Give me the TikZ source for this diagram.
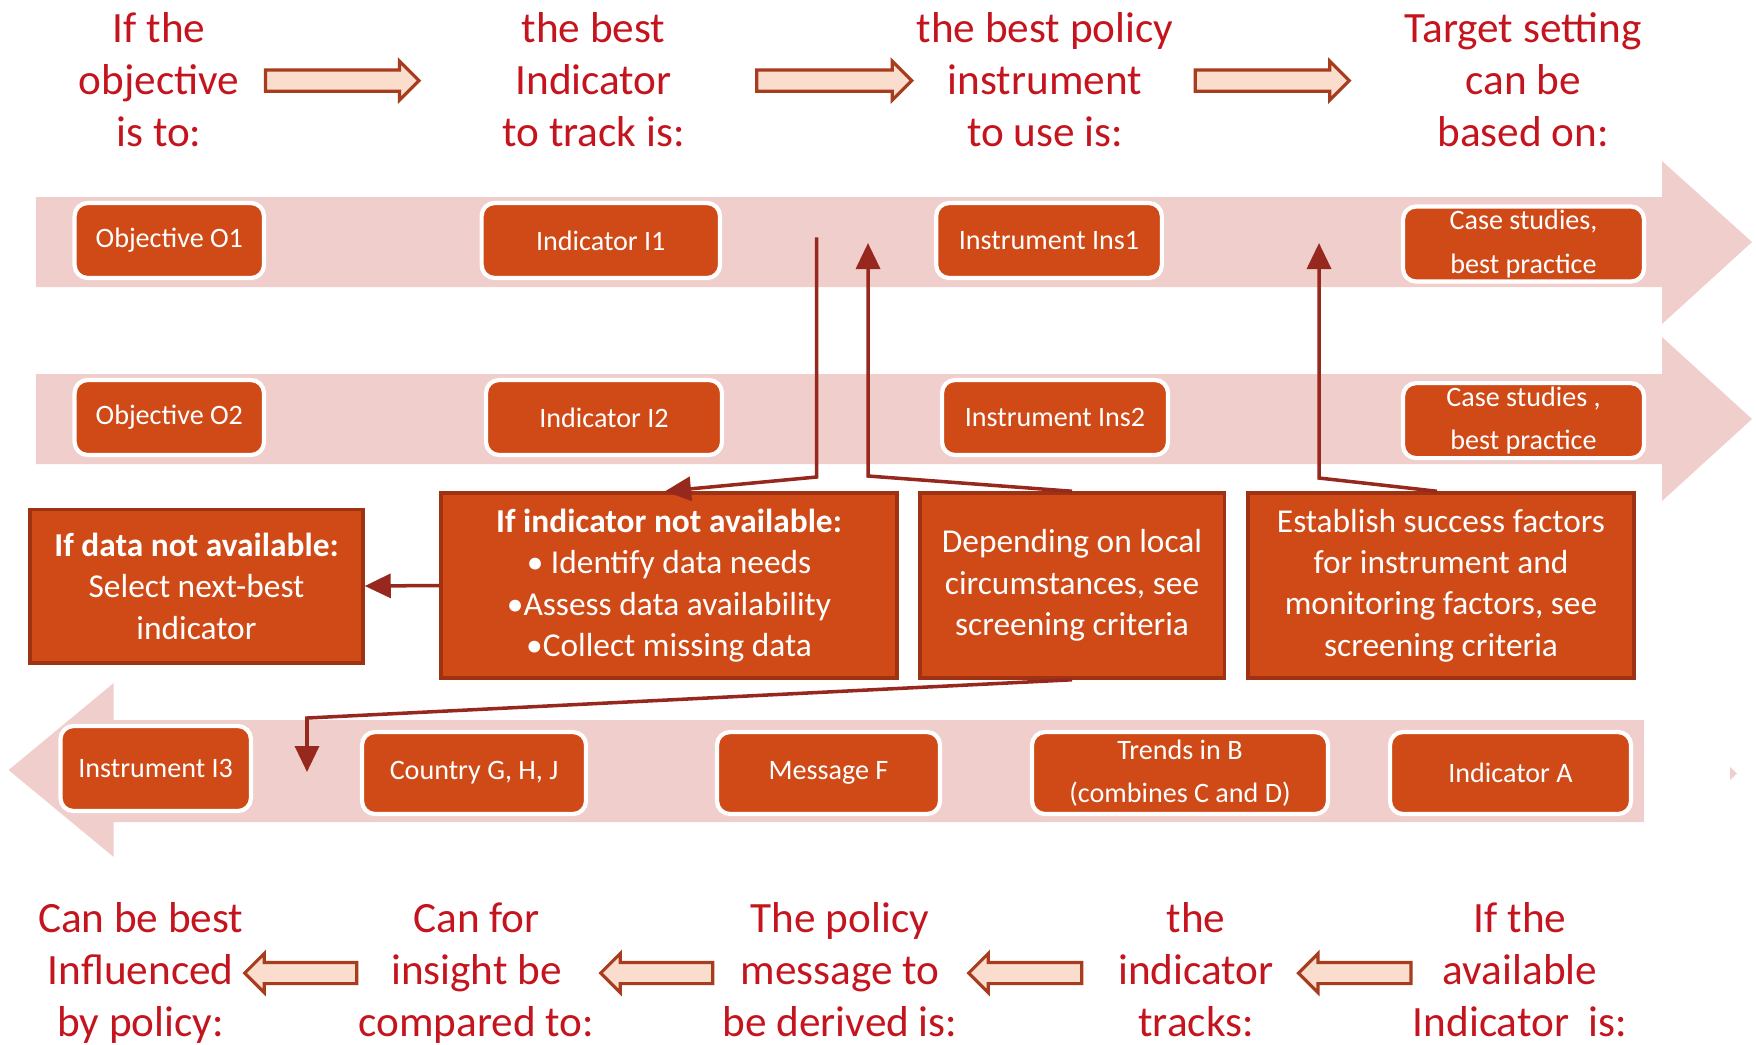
\documentclass[tikz,border=0pt]{standalone}
\usepackage{fontspec}
\setmainfont{Carlito}
\usepackage{tikz}
\usetikzlibrary{shapes.arrows,arrows.meta}

\definecolor{hdrred}{RGB}{196,20,30}
\definecolor{boxfill}{RGB}{208,74,24}
\definecolor{boxedge}{RGB}{160,50,20}
\definecolor{bandpink}{RGB}{240,206,204}
\definecolor{linered}{RGB}{150,40,30}
\definecolor{arrowfill}{RGB}{251,221,206}
\definecolor{arrowedge}{RGB}{168,60,30}

\begin{document}
\begin{tikzpicture}[hdr/.style={text=hdrred,align=center,inner sep=0pt,font=\fontsize{12.3}{14.9}\selectfont},
        pill/.style={rectangle,rounded corners=1.3mm,fill=boxfill,draw=white,line width=1.2pt,text=white,align=center,inner sep=0pt,font=\fontsize{8}{12.4}\selectfont},
        note/.style={rectangle,fill=boxfill,draw=boxedge,line width=1pt,text=white,align=center,inner sep=0pt,font=\fontsize{9.5}{11.8}\selectfont},
        conn/.style={draw=linered,line width=1pt,-{Triangle[length=2.6mm,width=2.4mm]}},
        fat/.style={single arrow,fill=arrowfill,draw=arrowedge,line width=0.9pt,inner xsep=0pt,inner ysep=0.9mm,single arrow head extend=0.9mm,minimum height=#1}]
        \useasboundingbox (0,0) rectangle (17.56,-10.44);

        % bands
        \fill[bandpink] (0.358,-1.97) -- (16.62,-1.97) -- (16.62,-1.61) -- (17.52,-2.42) -- (16.62,-3.24) -- (16.62,-2.87) -- (0.358,-2.87) -- cycle;
        \fill[bandpink] (0.358,-3.74) -- (16.62,-3.74) -- (16.62,-3.37) -- (17.52,-4.19) -- (16.62,-5.01) -- (16.62,-4.64) -- (0.358,-4.64) -- cycle;
        \fill[bandpink] (16.44,-7.20) -- (1.137,-7.20) -- (1.137,-6.83) -- (0.086,-7.70) -- (1.137,-8.57) -- (1.137,-8.22) -- (16.44,-8.22) -- cycle;
        \fill[bandpink] (17.30,-7.67) -- (17.37,-7.735) -- (17.30,-7.80) -- cycle;

        % headings
        \node[hdr] (h1) at (1.59,-0.874) {If the\\objective\\is to:\strut};
        \node[hdr] (h2) at (5.936,-0.874) {the best\\Indicator\\to track is:\strut};
        \node[hdr] (h3) at (10.45,-0.874) {the best policy\\instrument\\to use is:\strut};
        \node[hdr] (h4) at (15.23,-0.874) {Target setting\\can be\\based on:\strut};
        \node[fat=1.536cm] (a1) at (3.37,-0.806) {};
        \node[fat=1.55cm] (a2) at (8.29,-0.806) {};
        \node[fat=1.54cm] (a3) at (12.67,-0.806) {};

        \node[hdr] (f1) at (1.407,-9.774) {Can be best\\Influenced\\by policy:\strut};
        \node[hdr] (f2) at (4.765,-9.774) {Can for\\insight be\\compared to:\strut};
        \node[hdr] (f3) at (8.40,-9.774) {The policy\\message to\\be derived is:\strut};
        \node[hdr] (f4) at (11.96,-9.774) {the\\indicator\\tracks:\strut};
        \node[hdr] (f5) at (15.20,-9.774) {If the\\available\\Indicator\ \ is:\strut};
        \node[fat=1.12cm,shape border rotate=180] (b1) at (3.06,-9.73) {};
        \node[fat=1.12cm,shape border rotate=180] (b2) at (6.62,-9.73) {};
        \node[fat=1.13cm,shape border rotate=180] (b3) at (10.305,-9.73) {};
        \node[fat=1.125cm,shape border rotate=180] (b4) at (13.60,-9.73) {};

        % first row
        \node[pill,minimum width=1.894cm,minimum height=0.75cm] (o1) at (1.693,-2.405) {Objective O1};
        \node[pill,minimum width=2.384cm,minimum height=0.75cm] (i1) at (6.008,-2.405) {Indicator I1};
        \node[pill,minimum width=2.257cm,minimum height=0.75cm] (ins1) at (10.49,-2.405) {Instrument Ins1};
        \node[pill,minimum width=2.41cm,minimum height=0.75cm] (cs1) at (15.235,-2.44) {Case studies,\\best practice};

        % second row
        \node[pill,minimum width=1.894cm,minimum height=0.75cm] (o2) at (1.693,-4.175) {Objective O2};
        \node[pill,minimum width=2.36cm,minimum height=0.75cm] (i2) at (6.04,-4.175) {Indicator I2};
        \node[pill,minimum width=2.26cm,minimum height=0.75cm] (ins2) at (10.55,-4.175) {Instrument Ins2};
        \node[pill,minimum width=2.41cm,minimum height=0.75cm] (cs2) at (15.235,-4.206) {Case studies ,\\best practice};

        % third row
        \node[pill,minimum width=1.905cm,minimum height=0.85cm] (i3) at (1.557,-7.685) {Instrument I3};
        \node[pill,minimum width=2.24cm,minimum height=0.82cm] (cgh) at (4.74,-7.73) {Country G, H, J};
        \node[pill,minimum width=2.23cm,minimum height=0.82cm] (msg) at (8.285,-7.73) {Message F};
        \node[pill,minimum width=2.96cm,minimum height=0.82cm] (trd) at (11.80,-7.73) {Trends in B\\(combines C and D)};
        \node[pill,minimum width=2.41cm,minimum height=0.82cm] (ina) at (15.105,-7.73) {Indicator A};

        % notes
        \node[note,minimum width=3.33cm,minimum height=1.535cm] (dat) at (1.965,-5.86) {\textbf{If data not available:}\\Select next-best\\indicator};
        \node[note,minimum width=4.56cm,minimum height=1.85cm] (ifi) at (6.69,-5.855) {\textbf{If indicator not available:}\\• Identify data needs\\•Assess data availability\\•Collect missing data};
        \node[note,minimum width=3.045cm,minimum height=1.85cm] (dep) at (10.72,-5.855) {Depending on local\\circumstances, see\\screening criteria};
        \node[note,minimum width=3.86cm,minimum height=1.85cm] (est) at (14.41,-5.855) {Establish success factors\\for instrument and\\monitoring factors, see\\screening criteria};

        \coordinate (s1) at (8.165,-2.374);
        \coordinate (e2) at (8.68,-2.43);
        \coordinate (e3) at (13.19,-2.43);
        \coordinate (e5) at (3.07,-7.72);

        \draw[conn] (s1) -- (8.165,-4.77) -- ([xshift=-0.04cm]ifi.north);
        \draw[conn] (dep.north) -- (8.68,-4.76) -- (e2);
        \draw[conn] ([xshift=-0.04cm]est.north) -- (13.19,-4.78) -- (e3);
        \draw[conn] (ifi.west) -- (dat.east);
        \draw[conn] (dep.south) -- (3.07,-7.18) -- (e5);
    \end{tikzpicture}
\end{document}
